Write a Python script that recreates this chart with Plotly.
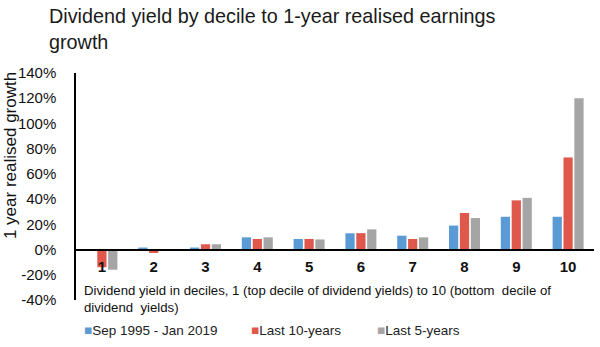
import plotly.graph_objects as go

deciles = ["1", "2", "3", "4", "5", "6", "7", "8", "9", "10"]
full_period = [0, 1.6, 1.6, 9.7, 8.4, 12.9, 11, 19, 26, 26]
last_10y = [-14, -2.7, 4.2, 8.4, 8.4, 13, 8.4, 29, 39, 73]
last_5y = [-16, 0, 4.2, 9.7, 8, 16, 9.7, 25, 41, 120]
series_names = ["Sep 1995 - Jan 2019", "Last 10-years", "Last 5-years"]
colors = ["#5B9BD5", "#E0574B", "#A5A5A5"]
y_ticks = [-40, -20, 0, 20, 40, 60, 80, 100, 120, 140]
y_ticktext = [f"{v}%" for v in y_ticks]

title_text = "Dividend yield by decile to 1-year realised earnings<br>growth"
xaxis_text = ("Dividend yield in deciles, 1 (top decile of dividend yields) to 10 (bottom  decile of"
              "<br>dividend  yields)")
yaxis_text = "1 year realised growth"

W, H = 600, 347
L, R, T, B = 76, 6, 73, 47
PW, PH = W - L - R, H - T - B

fig = go.Figure()
for name, vals, c in zip(series_names, [full_period, last_10y, last_5y], colors):
    fig.add_trace(go.Bar(x=deciles, y=vals, name=name, marker=dict(color=c, line=dict(width=0))))

ymin, ymax = y_ticks[0], y_ticks[-1]
zero_pos = (0 - ymin) / (ymax - ymin)

font = "Liberation Sans, Arial, sans-serif"
fig.update_layout(
    width=W, height=H,
    margin=dict(l=L, r=R, t=T, b=B),
    paper_bgcolor="white", plot_bgcolor="white",
    font=dict(family=font, color="#000000"),
    barmode="group", bargap=0.37, bargroupgap=0.15,
    showlegend=False,
    xaxis=dict(anchor="free", position=zero_pos, showline=True, linecolor="black", linewidth=2,
               ticks="", tickfont=dict(size=15, color="#111", weight="bold"),
               showgrid=False, zeroline=False, ticklabelstandoff=3),
    yaxis=dict(range=[ymin, ymax], tickvals=y_ticks, ticktext=y_ticktext, showline=True,
               linecolor="black", linewidth=1.5, showgrid=False, zeroline=False,
               ticks="", tickfont=dict(size=15, color="#111"), ticklabelstandoff=15),
)
# title
fig.add_annotation(text=title_text, xref="paper", yref="paper", x=(47 - L) / PW, y=1,
                   yshift=T - 55, xanchor="left", yanchor="bottom", align="left", showarrow=False,
                   font=dict(size=19.8, color="#1a1a1a"))
# x-axis title inside plot area
fig.add_annotation(text=xaxis_text, xref="paper", yref="paper", x=6 / PW, y=(H - B - 317) / PH,
                   xanchor="left", yanchor="bottom", align="left", showarrow=False,
                   font=dict(size=13.2, color="#111"))
# y-axis title
fig.add_annotation(text=yaxis_text, xref="paper", yref="paper", x=0, xshift=-66, y=0.634,
                   xanchor="center", yanchor="middle", textangle=-90, showarrow=False,
                   font=dict(size=17, color="#111"))
# legend entries
legend_x = [82, 249, 375]
for name, c, lx in zip(series_names, colors, legend_x):
    fig.add_annotation(text=f"<span style='color:{c}'>■</span>{name}", xref="paper", yref="paper",
                       x=(lx - L) / PW, y=0, yshift=-30, xanchor="left", yanchor="middle",
                       showarrow=False, font=dict(size=13.5, color="#222"))
fig.write_html("out.html")
